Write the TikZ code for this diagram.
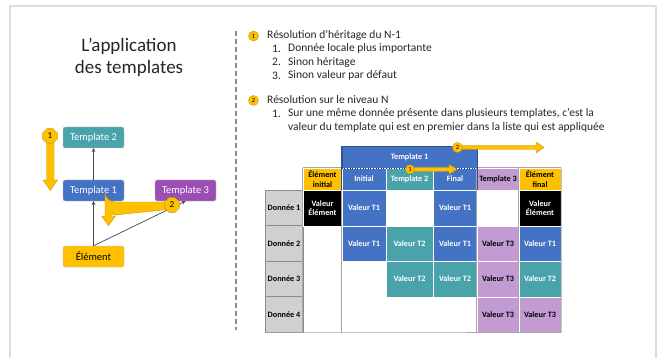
\documentclass[tikz,border=0pt]{standalone}
\usepackage{fontspec}
\setmainfont{Carlito}
\usetikzlibrary{shapes.geometric,calc}
\definecolor{tblue}{HTML}{4472C4}
\definecolor{tblueb}{HTML}{2F528F}
\definecolor{tteal}{HTML}{4AA3AB}
\definecolor{tpurple}{HTML}{9B4FB3}
\definecolor{tlila}{HTML}{C39BD3}
\definecolor{tyellow}{HTML}{FFC000}
\definecolor{tyelb}{HTML}{C99A00}
\definecolor{tgray}{HTML}{D0D0D0}
\definecolor{tgrayb}{HTML}{8C8C8C}
\definecolor{tline}{HTML}{A6A6A6}
\definecolor{ttext}{HTML}{262626}
\definecolor{tframe}{HTML}{DCDCE2}
\begin{document}
\begin{tikzpicture}[x=1pt,y=-1pt,
  box/.style={rounded corners=2pt,minimum width=61pt,minimum height=21pt,inner sep=0pt,
    font=\fontsize{10.5}{12}\selectfont,text=white,draw=white!55!gray,line width=0.4pt},
  conn/.style={draw=ttext!85,line width=0.7pt,-{stealth}},
  fat/.style={fill=tyellow,draw=tyelb,line width=0.4pt},
  octo/.style={regular polygon,regular polygon sides=8,minimum size=16pt,inner sep=0pt,
    fill=tyellow,draw=tyelb,line width=0.4pt,font=\fontsize{9}{10}\selectfont},
  dot/.style={circle,minimum size=10pt,inner sep=0pt,fill=tyellow,draw=tyelb,line width=0.4pt,
    font=\fontsize{6.5}{7}\selectfont},
  sdot/.style={circle,minimum size=9pt,inner sep=0pt,fill=tyellow,draw=tyelb,line width=0.4pt,
    font=\fontsize{6.5}{7}\selectfont},
  txt/.style={anchor=west,inner sep=0pt,text=ttext,font=\fontsize{11.5}{13}\selectfont},
  cell/.style={inner sep=0pt,align=center,font=\bfseries\fontsize{8.2}{9.4}\selectfont,
    draw=white,line width=0.5pt},
  wA/.style={minimum width=38pt},wB/.style={minimum width=39pt},wC/.style={minimum width=44pt},
  wD/.style={minimum width=47pt},wE/.style={minimum width=42pt},
  hh/.style={minimum height=22pt},hr/.style={minimum height=35.5pt},
  gcell/.style={cell,fill=tgray,draw=tgrayb,line width=0.8pt,text=black},
  bcell/.style={cell,fill=tblue,text=white},
  ccell/.style={cell,fill=tteal,text=white},
  lcell/.style={cell,fill=tlila,text=black},
  ycell/.style={cell,fill=tyellow,text=black},
  kcell/.style={cell,fill=black,text=white}
]
\useasboundingbox (0,0) rectangle (658,358);
\fill[white] (0,0) rectangle (658,358);
\begin{scope}
\clip (0,0) rectangle (658,358);
\draw[tframe,line width=2pt] (9.5,6.5) rectangle (656,372);
\end{scope}

% title
\node[align=center,text=ttext,font=\fontsize{19}{21.5}\selectfont] (title) at (129,57.5) {L’application\\des templates};

% separator
\draw[tgrayb,line width=1.5pt,dash pattern=on 5pt off 3pt] (236,31) coordinate (sepA) -- (236,330) coordinate (sepB);

% left diagram
\node[box,fill=tteal] (lt2) at (93.5,137.5) {Template 2};
\node[box,fill=tblue] (lt1) at (93.5,190.5) {Template 1};
\node[box,fill=tpurple] (lt3) at (185.5,190.5) {Template 3};
\node[box,fill=tyellow,text=black] (lel) at (93.5,256.5) {Élément};
\draw[conn] (lel.north) -- (lt1.south);
\draw[conn] (lt1.north) -- (lt2.south);
\draw[conn] (lel.north) -- (lt3.south);

\draw[fat] (46.5,136) -- (46.5,180) -- (43,180) -- (50.3,190.5) -- (57.5,180) -- (54,180) -- (54,136) -- cycle;
\node[octo] (o1) at (50,136) {1};
\draw[fat] (172,202) -- (115,202) arc[start angle=90,end angle=180,radius=10] -- (105,216) -- (101.5,216)
  -- (108.5,225.5) -- (115.5,216) -- (112,216) -- (112,212) arc[start angle=180,end angle=90,radius=3] -- (172,209) -- cycle;
\node[octo] (o2) at (172,205) {2};

% list text
\node[dot] (m1) at (253.5,36) {1};
\node[txt] (l1) at (267,35) {Résolution d’héritage du N-1};
\node[txt] (n11) at (272,48.5) {1.};
\node[txt] (l11) at (288,48.5) {Donnée locale plus importante};
\node[txt] (n12) at (272,62) {2.};
\node[txt] (l12) at (288,62) {Sinon héritage};
\node[txt] (n13) at (272,75.5) {3.};
\node[txt] (l13) at (288,75.5) {Sinon valeur par défaut};
\node[dot] (m2) at (253.5,100.5) {2};
\node[txt] (l2) at (267,100) {Résolution sur le niveau N};
\node[txt] (n21) at (272,113.5) {1.};
\node[txt] (l21) at (288,113.5) {Sur une même donnée présente dans plusieurs templates, c’est la};
\node[txt] (l22) at (288,127) {valeur du template qui est en premier dans la liste qui est appliquée};

% table header
\node[cell,fill=tblue,text=white,draw=tblueb,minimum width=135pt,hh] (h1) at (409.5,157) {Template 1};
\node[ycell,wB,hh] (hei) at (322.5,179) {Élément\\initial};
\node[bcell,wC,hh] (hin) at (364,179) {Initial};
\node[ccell,wD,hh] (ht2) at (409.5,179) {Template 2};
\node[bcell,wC,hh] (hfi) at (455,179) {Final};
\node[lcell,wE,hh] (ht3) at (498,179) {Template 3};
\node[ycell,wE,hh] (hef) at (540,179) {Élément\\final};

% rows
\node[gcell,wA,hr] (d1) at (284,208) {Donnée 1};
\node[gcell,wA,hr] (d2) at (284,243.5) {Donnée 2};
\node[gcell,wA,hr] (d3) at (284,279) {Donnée 3};
\node[gcell,wA,hr] (d4) at (284,314.5) {Donnée 4};

\node[kcell,wB,hr] (ei1) at (322.5,208) {Valeur\\Élément};
\node[bcell,wC,hr] (in1) at (364,208) {Valeur T1};
\node[bcell,wC,hr] (fi1) at (455,208) {Valeur T1};
\node[kcell,wE,hr] (ef1) at (540,208) {Valeur\\Élément};

\node[bcell,wC,hr] (in2) at (364,243.5) {Valeur T1};
\node[ccell,wD,hr] (t22) at (409.5,243.5) {Valeur T2};
\node[bcell,wC,hr] (fi2) at (455,243.5) {Valeur T1};
\node[lcell,wE,hr] (t32) at (498,243.5) {Valeur T3};
\node[bcell,wE,hr] (ef2) at (540,243.5) {Valeur T1};

\node[ccell,wD,hr] (t23) at (409.5,279) {Valeur T2};
\node[ccell,wC,hr] (fi3) at (455,279) {Valeur T2};
\node[lcell,wE,hr] (t33) at (498,279) {Valeur T3};
\node[ccell,wE,hr] (ef3) at (540,279) {Valeur T2};

\node[lcell,wE,hr] (t34) at (498,314.5) {Valeur T3};
\node[lcell,wE,hr] (ef4) at (540,314.5) {Valeur T3};

% grid outlines
\draw[tline,line width=0.6pt] (hei.north west) -- (hei.north west |- d4.south);
\draw[tline,line width=0.6pt] (hin.north west) -- (hin.north west |- d4.south);
\draw[tline,line width=0.6pt] (d4.south west) -- (ef4.south east) -- (hef.north east);
\draw[tline,line width=0.6pt] (ht3.north west) -- (ht3.north west |- d4.south);
\draw[tline,line width=0.6pt] (hef.north west) -- (hef.north west |- d4.south);
\draw[tline,line width=0.6pt] (ht3.north west) -- (hef.north east);
\draw[tline,line width=0.6pt] (hei.north west) -- (hei.north east);
\draw[tblueb,line width=0.6pt] (h1.north west) -- (h1.south west |- ht2.south);
\draw[tblueb,line width=0.6pt] (h1.north east) -- (h1.south east |- ht2.south);
\draw[tblueb!60!black,line width=0.6pt,dotted] (h1.south west) -- (h1.south east);

% table arrows
\draw[fat] (410,167.3) -- (449,167.3) -- (449,164.5) -- (457,169.3) -- (449,174.1) -- (449,171.3) -- (410,171.3) -- cycle;
\node[sdot] (a1) at (410,169.3) {1};
\draw[fat] (457,145.5) -- (536,145.5) -- (536,142) -- (544,147.5) -- (536,153) -- (536,149.5) -- (457,149.5) -- cycle;
\node[dot] (a2) at (457.5,147.5) {2};
\end{tikzpicture}
\end{document}
